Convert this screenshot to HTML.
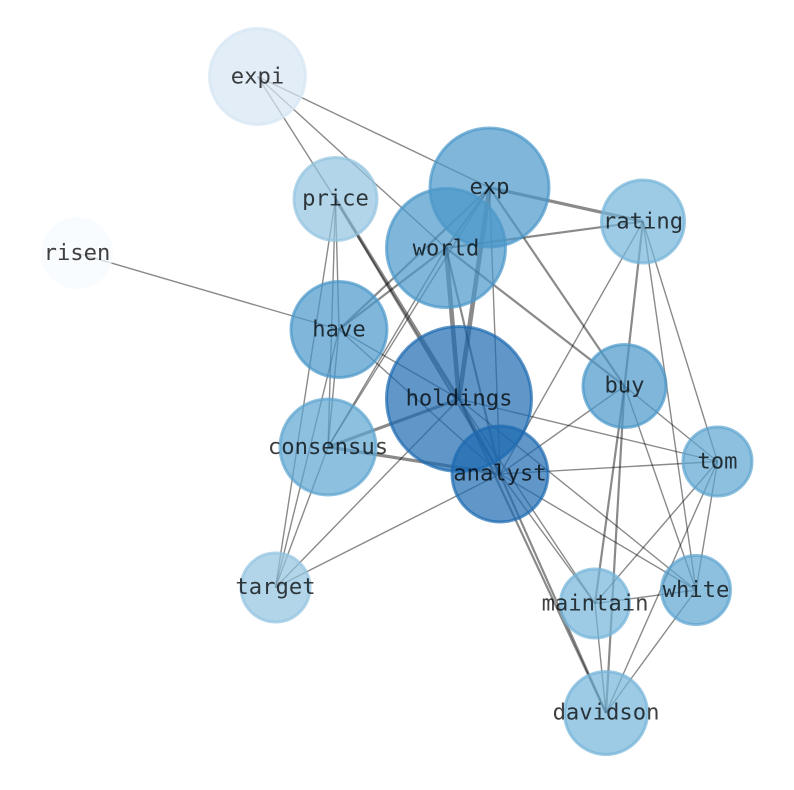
<!DOCTYPE html>
<html><head><meta charset="utf-8"><style>
html,body{margin:0;padding:0;background:#fff}
svg{display:block}
text{font-family:"DejaVu Sans Mono","Liberation Mono",monospace;font-size:22.2px;text-anchor:middle;fill:#000;fill-opacity:.75}
line{stroke:#000;stroke-opacity:.46;stroke-width:1.4}
.m{stroke-width:2.2}.t{stroke-width:3.2}.x{stroke-width:4.6}
circle{stroke-width:3;fill-opacity:.7;stroke-opacity:.7}
</style></head><body>
<svg width="794" height="790" viewBox="0 0 794 790" xmlns="http://www.w3.org/2000/svg">
<g>
<line x1="77" y1="253" x2="339" y2="329.5"/>
<line x1="257.5" y1="76.5" x2="489.5" y2="187.5"/>
<line x1="257.5" y1="76.5" x2="446" y2="248"/>
<line x1="257.5" y1="76.5" x2="335.5" y2="199"/>
<line class="t" x1="335.5" y1="199" x2="459" y2="399"/>
<line class="m" x1="335.5" y1="199" x2="500" y2="474"/>
<line x1="335.5" y1="199" x2="339" y2="329.5"/>
<line x1="335.5" y1="199" x2="328" y2="447"/>
<line x1="335.5" y1="199" x2="275.5" y2="587.5"/>
<line class="m" x1="489.5" y1="187.5" x2="339" y2="329.5"/>
<line x1="489.5" y1="187.5" x2="328" y2="447"/>
<line class="m" x1="489.5" y1="187.5" x2="446" y2="248"/>
<line class="x" x1="489.5" y1="187.5" x2="459" y2="399"/>
<line x1="489.5" y1="187.5" x2="500" y2="474"/>
<line class="m" x1="489.5" y1="187.5" x2="624.5" y2="386"/>
<line class="t" x1="489.5" y1="187.5" x2="643" y2="221.5"/>
<line class="m" x1="446" y1="248" x2="643" y2="221.5"/>
<line class="m" x1="446" y1="248" x2="624.5" y2="386"/>
<line class="m" x1="446" y1="248" x2="339" y2="329.5"/>
<line x1="446" y1="248" x2="328" y2="447"/>
<line class="x" x1="446" y1="248" x2="459" y2="399"/>
<line class="m" x1="446" y1="248" x2="500" y2="474"/>
<line x1="339" y1="329.5" x2="459" y2="399"/>
<line x1="339" y1="329.5" x2="500" y2="474"/>
<line x1="339" y1="329.5" x2="328" y2="447"/>
<line x1="339" y1="329.5" x2="275.5" y2="587.5"/>
<line class="t" x1="328" y1="447" x2="459" y2="399"/>
<line class="t" x1="328" y1="447" x2="500" y2="474"/>
<line x1="328" y1="447" x2="275.5" y2="587.5"/>
<line x1="275.5" y1="587.5" x2="459" y2="399"/>
<line x1="275.5" y1="587.5" x2="500" y2="474"/>
<line class="m" x1="459" y1="399" x2="500" y2="474"/>
<line x1="459" y1="399" x2="717.5" y2="461.5"/>
<line x1="459" y1="399" x2="696" y2="590"/>
<line x1="459" y1="399" x2="595" y2="603.5"/>
<line class="m" x1="459" y1="399" x2="606" y2="713"/>
<line x1="500" y1="474" x2="717.5" y2="461.5"/>
<line x1="500" y1="474" x2="696" y2="590"/>
<line x1="500" y1="474" x2="595" y2="603.5"/>
<line class="m" x1="500" y1="474" x2="606" y2="713"/>
<line x1="500" y1="474" x2="624.5" y2="386"/>
<line x1="500" y1="474" x2="643" y2="221.5"/>
<line class="m" x1="643" y1="221.5" x2="624.5" y2="386"/>
<line x1="643" y1="221.5" x2="717.5" y2="461.5"/>
<line x1="643" y1="221.5" x2="696" y2="590"/>
<line x1="624.5" y1="386" x2="717.5" y2="461.5"/>
<line x1="624.5" y1="386" x2="696" y2="590"/>
<line class="m" x1="624.5" y1="386" x2="595" y2="603.5"/>
<line class="m" x1="624.5" y1="386" x2="606" y2="713"/>
<line x1="717.5" y1="461.5" x2="595" y2="603.5"/>
<line x1="717.5" y1="461.5" x2="696" y2="590"/>
<line x1="717.5" y1="461.5" x2="606" y2="713"/>
<line x1="696" y1="590" x2="595" y2="603.5"/>
<line x1="696" y1="590" x2="606" y2="713"/>
<line x1="595" y1="603.5" x2="606" y2="713"/>
</g>
<g>
<circle cx="257.5" cy="76.5" r="48" fill="#d6e6f4" stroke="#d6e6f4"/>
<circle cx="489.5" cy="187.5" r="59.5" fill="#4a97c9" stroke="#4a97c9"/>
<circle cx="335.5" cy="199" r="41.5" fill="#93c3df" stroke="#93c3df"/>
<circle cx="643" cy="221.5" r="41.5" fill="#74b3d9" stroke="#74b3d9"/>
<circle cx="446" cy="248" r="59.5" fill="#4a97c9" stroke="#4a97c9"/>
<circle cx="77" cy="253" r="34.5" fill="#f7fbff" stroke="#f7fbff"/>
<circle cx="339" cy="329.5" r="48" fill="#4a97c9" stroke="#4a97c9"/>
<circle cx="459" cy="399" r="72.5" fill="#1c69b0" stroke="#1c69b0"/>
<circle cx="624.5" cy="386" r="41.5" fill="#4a97c9" stroke="#4a97c9"/>
<circle cx="328" cy="447" r="48" fill="#5da4d0" stroke="#5da4d0"/>
<circle cx="500" cy="474" r="48" fill="#1c69b0" stroke="#1c69b0"/>
<circle cx="717.5" cy="461.5" r="34.5" fill="#5da4d0" stroke="#5da4d0"/>
<circle cx="275.5" cy="587.5" r="34.5" fill="#93c3df" stroke="#93c3df"/>
<circle cx="595" cy="603.5" r="34.5" fill="#74b3d9" stroke="#74b3d9"/>
<circle cx="696" cy="590" r="34.5" fill="#5da4d0" stroke="#5da4d0"/>
<circle cx="606" cy="713" r="41.5" fill="#74b3d9" stroke="#74b3d9"/>
</g>
<g>
<text x="257.5" y="83.5">expi</text>
<text x="489.5" y="194">exp</text>
<text x="335.5" y="205.5">price</text>
<text x="643" y="228.5">rating</text>
<text x="446" y="255.5">world</text>
<text x="77" y="260">risen</text>
<text x="339" y="336.5">have</text>
<text x="459" y="405.5">holdings</text>
<text x="624.5" y="392.5">buy</text>
<text x="328" y="454">consensus</text>
<text x="500" y="480.5">analyst</text>
<text x="717.5" y="468.5">tom</text>
<text x="275.5" y="594">target</text>
<text x="595" y="610.5">maintain</text>
<text x="696" y="597">white</text>
<text x="606" y="719.5">davidson</text>
</g>
</svg>
</body></html>
